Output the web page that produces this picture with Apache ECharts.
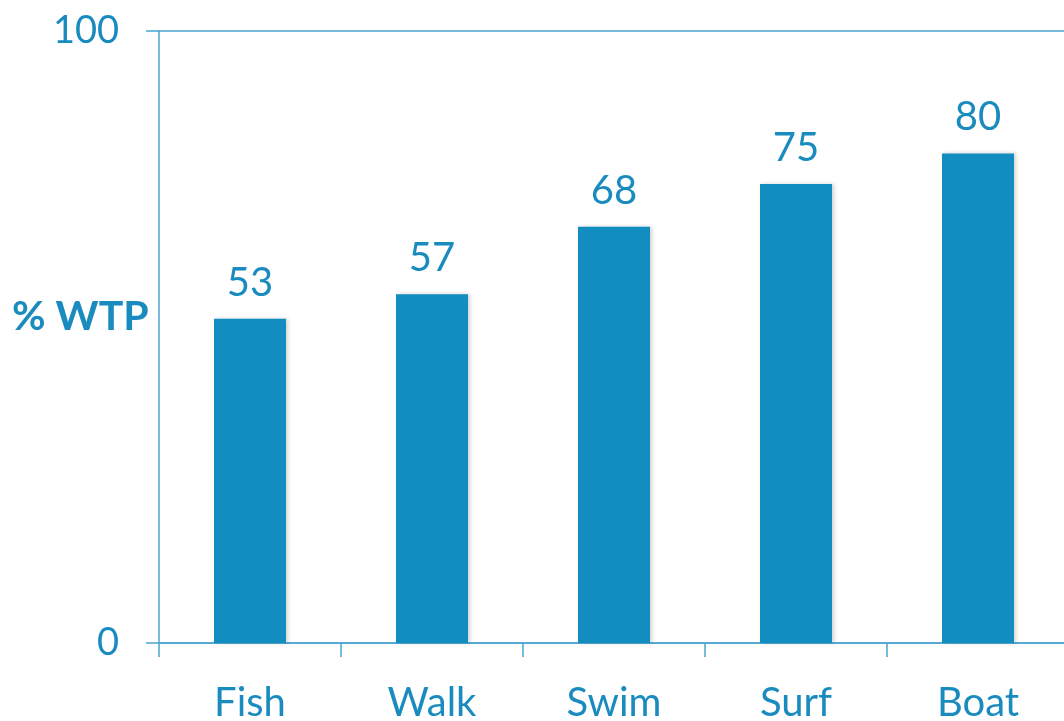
<!DOCTYPE html>
<html>
<head>
<meta charset="utf-8">
<script src="https://cdn.jsdelivr.net/npm/echarts@6/dist/echarts.min.js"></script>
<style>
  html, body { margin: 0; padding: 0; background: #fff; }
  #chart { width: 1064px; height: 721px; }
</style>
</head>
<body>
<div id="chart"></div>
<script>
// data
const categories = ['Fish', 'Walk', 'Swim', 'Surf', 'Boat'];
const wtpValues = [53, 57, 68, 75, 80];

const textColor = '#1a8bbf';
const barColor = '#128dc0';
const lineColor = '#4ba5cf';

const chart = echarts.init(document.getElementById('chart'));

chart.setOption({
  animation: false,
  // axis title sits a bit above the middle of the axis, so it is placed as a title
  title: {
    text: '% WTP',
    left: 12,
    top: 296,
    padding: 0,
    textStyle: { color: textColor, fontFamily: 'Lato', fontWeight: 'bold', fontSize: 41 }
  },
  grid: { left: 159, top: 31, width: 910, height: 612, outerBoundsMode: 'none', containLabel: false },
  xAxis: {
    type: 'category',
    data: categories,
    axisLine: { lineStyle: { color: lineColor, width: 1.5 } },
    axisTick: { show: true, length: 14, lineStyle: { color: lineColor, width: 1.5 } },
    axisLabel: { color: textColor, fontFamily: 'Lato', fontSize: 40, margin: 40 }
  },
  yAxis: {
    type: 'value',
    min: 0,
    max: 100,
    interval: 100,
    axisLine: { show: true, lineStyle: { color: lineColor, width: 1.5 } },
    axisTick: { show: true, length: 13, lineStyle: { color: lineColor, width: 1.5 } },
    splitLine: { show: true, lineStyle: { color: lineColor, width: 1.5 } },
    axisLabel: { color: textColor, fontFamily: 'Lato', fontSize: 38, margin: 40 }
  },
  series: [{
    type: 'bar',
    data: wtpValues,
    barWidth: 72,
    itemStyle: {
      color: barColor,
      shadowColor: 'rgba(0,0,0,0.18)',
      shadowBlur: 4,
      shadowOffsetX: 2
    },
    label: {
      show: true,
      position: 'top',
      distance: 16,
      color: textColor,
      fontFamily: 'Lato',
      fontSize: 40
    }
  }]
});
</script>
</body>
</html>
